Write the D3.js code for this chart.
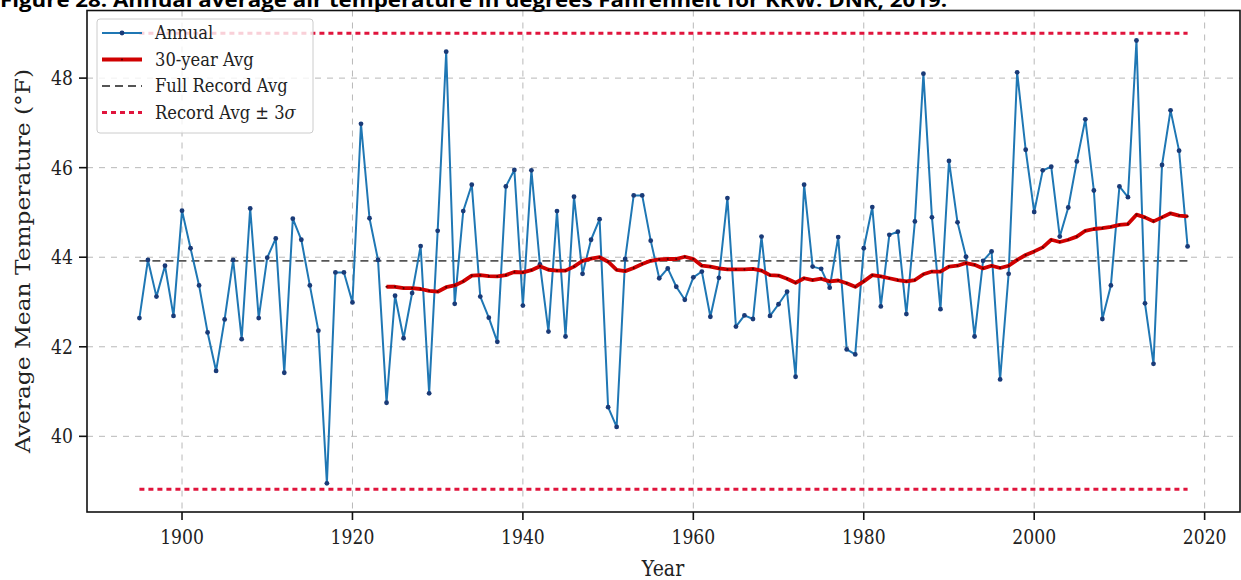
<!DOCTYPE html>
<html><head><meta charset="utf-8">
<script src="https://cdn.jsdelivr.net/npm/d3@7"></script>
<style>body{margin:0;background:#fff}svg{display:block}</style>
</head><body>
<svg id="c" width="1241" height="580"></svg>
<script>
const titleText = "Figure 28. Annual average air temperature in degrees Fahrenheit for KRW. DNR, 2019.";
const years = [1895,1896,1897,1898,1899,1900,1901,1902,1903,1904,1905,1906,1907,1908,1909,1910,1911,1912,1913,1914,
1915,1916,1917,1918,1919,1920,1921,1922,1923,1924,1925,1926,1927,1928,1929,1930,1931,1932,1933,1934,
1935,1936,1937,1938,1939,1940,1941,1942,1943,1944,1945,1946,1947,1948,1949,1950,1951,1952,1953,1954,
1955,1956,1957,1958,1959,1960,1961,1962,1963,1964,1965,1966,1967,1968,1969,1970,1971,1972,1973,1974,
1975,1976,1977,1978,1979,1980,1981,1982,1983,1984,1985,1986,1987,1988,1989,1990,1991,1992,1993,1994,
1995,1996,1997,1998,1999,2000,2001,2002,2003,2004,2005,2006,2007,2008,2009,2010,2011,2012,2013,2014,
2015,2016,2017,2018];
const annualTemps = [42.64,43.94,43.12,43.81,42.69,45.04,44.20,43.37,42.32,41.46,42.61,43.94,42.17,45.09,42.64,43.99,44.42,41.42,44.86,44.39,
43.37,42.36,38.95,43.66,43.66,42.99,46.98,44.87,43.94,40.75,43.14,42.19,43.20,44.25,40.96,44.59,48.59,42.96,45.03,45.62,
43.12,42.65,42.11,45.58,45.95,42.92,45.94,43.84,42.34,45.03,42.23,45.35,43.63,44.39,44.85,40.65,40.21,43.96,45.38,45.38,
44.37,43.53,43.75,43.34,43.05,43.55,43.68,42.67,43.54,45.32,42.45,42.70,42.62,44.46,42.69,42.95,43.23,41.33,45.62,43.79,
43.74,43.32,44.45,41.94,41.83,44.20,45.12,42.90,44.50,44.57,42.73,44.80,48.10,44.89,42.84,46.15,44.78,44.01,42.23,43.92,
44.13,41.27,43.63,48.13,46.40,45.01,45.94,46.02,44.46,45.11,46.14,47.08,45.49,42.62,43.37,45.58,45.34,48.84,42.97,41.62,
46.06,47.28,46.38,44.24];
const avgYears = years.slice(29); // 1924-2018
const avg30 = [43.34,43.34,43.31,43.31,43.29,43.25,43.23,43.33,43.37,43.46,43.59,43.60,43.58,43.57,43.60,43.67,43.66,43.71,43.80,43.72,
43.70,43.70,43.79,43.92,43.97,44.00,43.90,43.72,43.69,43.76,43.85,43.92,43.95,43.96,43.96,44.01,43.96,43.81,43.79,43.75,
43.73,43.73,43.73,43.74,43.70,43.60,43.59,43.52,43.43,43.53,43.49,43.52,43.46,43.48,43.42,43.34,43.46,43.60,43.57,43.53,
43.49,43.46,43.49,43.62,43.68,43.68,43.79,43.81,43.87,43.83,43.75,43.81,43.76,43.81,43.94,44.05,44.13,44.22,44.39,44.34,
44.39,44.46,44.59,44.63,44.65,44.68,44.72,44.74,44.95,44.89,44.80,44.89,44.98,44.93,44.91];
const recordMean = 43.92;
const recordUpper = 49.00;
const recordLower = 38.82;
const xTicks = [1900,1920,1940,1960,1980,2000,2020];
const yTicks = [40,42,44,46,48];
const legendLabels = ["Annual","30-year Avg","Full Record Avg","Record Avg \u00b1 3"];
const xLabel = "Year";
const yLabel = "Average Mean Temperature (\u00b0F)";

const svg = d3.select("#c");
const L = 87, R = 1240, T = 10.5, B = 512;
const x = d3.scaleLinear().domain([1888.85, 2024.15]).range([L, R]);
const y = d3.scaleLinear().domain([38.31, 49.51]).range([B, T]);
const serif = "'DejaVu Serif', serif";
const SX = 0.86;

// title (cut at top)
svg.append("text").attr("x", 0).attr("y", 7)
  .attr("font-family", "'Open Sans', sans-serif").attr("font-weight", "bold")
  .attr("font-size", 20).attr("fill", "#000")
  .attr("textLength", 947).attr("lengthAdjust", "spacingAndGlyphs")
  .text(titleText);

const clip = svg.append("defs").append("clipPath").attr("id","pc")
  .append("rect").attr("x", L).attr("y", T).attr("width", R-L).attr("height", B-T);

// grid
const grid = svg.append("g").attr("clip-path","url(#pc)");
grid.selectAll(".gx").data(xTicks).join("line")
  .attr("x1", d => x(d)).attr("x2", d => x(d)).attr("y1", T).attr("y2", B)
  .attr("stroke", "#b8b8b8").attr("stroke-width", 1).attr("stroke-dasharray", "6,6");
grid.selectAll(".gy").data(yTicks).join("line")
  .attr("x1", L).attr("x2", R).attr("y1", d => y(d)).attr("y2", d => y(d))
  .attr("stroke", "#b8b8b8").attr("stroke-width", 1).attr("stroke-dasharray", "6,6");

const plot = svg.append("g").attr("clip-path","url(#pc)");
const x0 = years[0], x1 = years[years.length-1];
// record lines
[recordUpper, recordLower].forEach(v => {
  plot.append("line").attr("x1", x(x0)).attr("x2", x(x1)).attr("y1", y(v)).attr("y2", y(v))
    .attr("stroke", "#e0143c").attr("stroke-width", 3).attr("stroke-dasharray", "5,4");
});
plot.append("line").attr("x1", x(x0)).attr("x2", x(x1)).attr("y1", y(recordMean)).attr("y2", y(recordMean))
  .attr("stroke", "#555").attr("stroke-width", 1.8).attr("stroke-dasharray", "8,5");

// annual
const annual = years.map((yr,i) => [yr, annualTemps[i]]);
plot.append("path").datum(annual)
  .attr("d", d3.line().x(d => x(d[0])).y(d => y(d[1])))
  .attr("fill","none").attr("stroke","#1f77b4").attr("stroke-width",2).attr("stroke-linejoin","round");
plot.selectAll(".ad").data(annual).join("circle")
  .attr("cx", d => x(d[0])).attr("cy", d => y(d[1])).attr("r", 2.4).attr("fill", "#1a3b78");

// 30-year avg
const avg = avgYears.map((yr,i) => [yr, avg30[i]]);
plot.append("path").datum(avg)
  .attr("d", d3.line().x(d => x(d[0])).y(d => y(d[1])))
  .attr("fill","none").attr("stroke","#d00000").attr("stroke-width",3.8).attr("stroke-linejoin","round");
plot.selectAll(".vd").data(avg).join("circle")
  .attr("cx", d => x(d[0])).attr("cy", d => y(d[1])).attr("r", 1.1).attr("fill", "#5a0000");

// frame
svg.append("rect").attr("x", L).attr("y", T).attr("width", R-L).attr("height", B-T)
  .attr("fill","none").attr("stroke","#111").attr("stroke-width",1.6);

// ticks
svg.selectAll(".tx").data(xTicks).join("line")
  .attr("x1", d => x(d)).attr("x2", d => x(d)).attr("y1", B).attr("y2", B+8)
  .attr("stroke","#111").attr("stroke-width",1.6);
svg.selectAll(".ty").data(yTicks).join("line")
  .attr("x1", L-8).attr("x2", L).attr("y1", d => y(d)).attr("y2", d => y(d))
  .attr("stroke","#111").attr("stroke-width",1.6);
svg.selectAll(".lx").data(xTicks).join("text")
  .attr("transform", d => `translate(${x(d)},544) scale(${SX},1)`)
  .attr("text-anchor","middle").attr("font-family", serif).attr("font-size", 20).attr("fill","#222")
  .text(d => d);
svg.selectAll(".ly").data(yTicks).join("text")
  .attr("transform", d => `translate(73,${y(d)+7}) scale(${SX},1)`)
  .attr("text-anchor","end").attr("font-family", serif).attr("font-size", 20).attr("fill","#222")
  .text(d => d);

// axis labels
svg.append("text").attr("transform", `translate(663,576) scale(${SX},1)`)
  .attr("text-anchor","middle").attr("font-family", serif).attr("font-size", 22).attr("fill","#222")
  .text(xLabel);
svg.append("text").attr("transform", `translate(30,261) rotate(-90)`)
  .attr("text-anchor","middle").attr("font-family", serif).attr("font-size", 20).attr("fill","#222")
  .attr("textLength", 384).attr("lengthAdjust","spacingAndGlyphs")
  .text(yLabel);

// legend
const lg = svg.append("g");
lg.append("rect").attr("x", 97).attr("y", 19).attr("width", 216).attr("height", 114).attr("rx", 3)
  .attr("fill","#fff").attr("fill-opacity",0.8).attr("stroke","#ccc").attr("stroke-width",1);
const rows = [33, 59.5, 86, 112.5];
const hx0 = 102, hx1 = 142;
lg.append("line").attr("x1",hx0).attr("x2",hx1).attr("y1",rows[0]).attr("y2",rows[0]).attr("stroke","#1f77b4").attr("stroke-width",2);
lg.append("circle").attr("cx",(hx0+hx1)/2).attr("cy",rows[0]).attr("r",2.4).attr("fill","#1a3b78");
lg.append("line").attr("x1",hx0).attr("x2",hx1).attr("y1",rows[1]).attr("y2",rows[1]).attr("stroke","#d00000").attr("stroke-width",3.8);
lg.append("circle").attr("cx",(hx0+hx1)/2).attr("cy",rows[1]).attr("r",1.1).attr("fill","#5a0000");
lg.append("line").attr("x1",hx0).attr("x2",hx1).attr("y1",rows[2]).attr("y2",rows[2]).attr("stroke","#555").attr("stroke-width",1.8).attr("stroke-dasharray","8,5");
lg.append("line").attr("x1",hx0).attr("x2",hx1).attr("y1",rows[3]).attr("y2",rows[3]).attr("stroke","#e0143c").attr("stroke-width",3).attr("stroke-dasharray","5,4");
legendLabels.forEach((t,i) => {
  const tx = lg.append("text").attr("transform", `translate(155,${rows[i]+6}) scale(${SX},1)`)
    .attr("font-family", serif).attr("font-size", 19).attr("fill","#222").text(t);
  if (i === 3) tx.append("tspan").attr("font-style","italic").text("\u03c3");
});
</script>
</body></html>
